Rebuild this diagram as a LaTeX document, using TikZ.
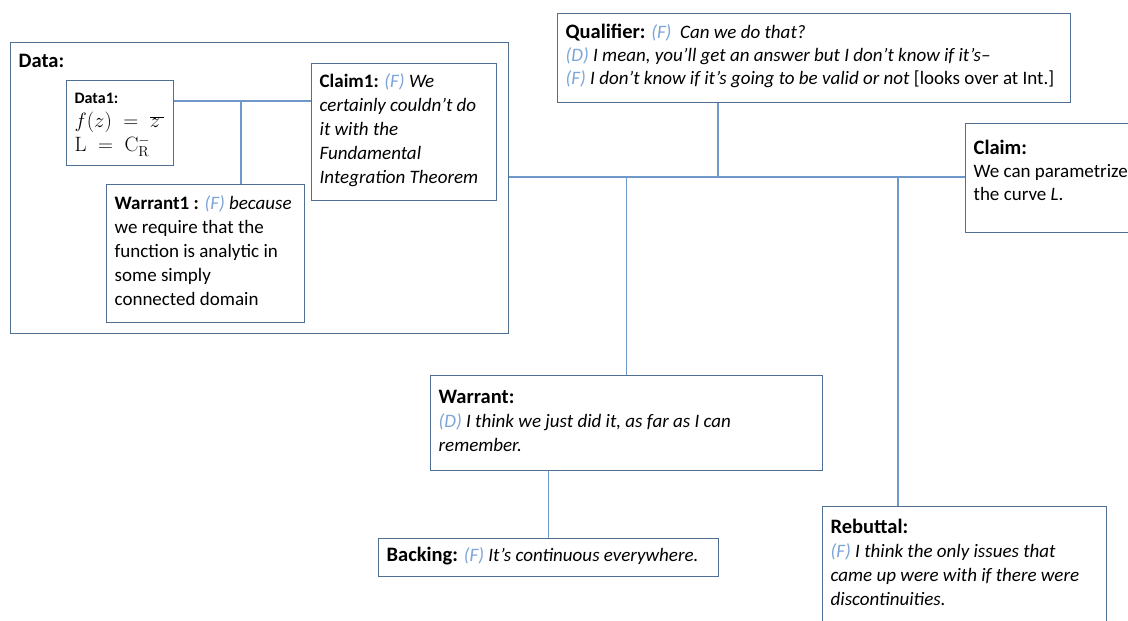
\documentclass[tikz,border=0pt]{standalone}
\usepackage[no-math]{fontspec}
\setmainfont{Carlito}
\definecolor{boxline}{HTML}{4F6F93}
\definecolor{linkline}{HTML}{6E98CB}
\definecolor{speaker}{HTML}{7DA5D8}
% speaker tag and headings
\newcommand{\who}[1]{{\color{speaker}\itshape(#1)}}
\newcommand{\head}[1]{{\fontsize{20.5}{24}\selectfont\bfseries #1}}
% box text: width, height, first baseline, text
\newcommand{\boxtext}[4]{%
  \begin{minipage}[t][#2pt][t]{\dimexpr #1pt-16pt\relax}\raggedright\rule{0pt}{#3pt}#4\end{minipage}}

\begin{document}
\begin{tikzpicture}[
  x=1pt, y=-1pt,
  font=\fontsize{19}{24}\selectfont,
  part/.style={draw=boxline, line width=1.3pt, fill=white, anchor=north west, inner xsep=8pt, inner ysep=0pt},
  link/.style={draw=linkline, line width=1.2pt},
]
\useasboundingbox (0,0) rectangle (1128,621);
\clip (0,0) rectangle (1128,621);

% Data group with its own small argument
\node[part] (data) at (10,42) {\boxtext{498}{291}{25}{\head{Data:}}};
\node[part] (dataone) at (66,80) {\boxtext{107}{85}{23}{{\fontsize{16}{24}\selectfont\bfseries Data1:}\\
  {\fontsize{21}{24}\selectfont $f(z)\;=\;\overline{z\,}$\\
  $\mathrm{L}\;=\;\mathrm{C}_{\mathrm{R}}^{-}$}}};
\node[part] (claimone) at (311,63) {\boxtext{185}{137}{24}{\textbf{Claim1:} \who{F} \textit{We}\\
  \textit{certainly couldn't do}\\ \textit{it with the}\\ \textit{Fundamental}\\ \textit{Integration Theorem}}};
\node[part] (warrantone) at (106,184) {\boxtext{198}{138}{25}{\textbf{Warrant1 :} \who{F} \textit{because}\\
  we require that the\\ function is analytic in\\ some simply\\ connected domain}};

% main argument
\node[part] (qualifier) at (557,13) {\boxtext{513}{89}{25}{\fontsize{19}{23}\selectfont
  \head{Qualifier:} \who{F}\ \ \textit{Can we do that?}\\
  \who{D} \textit{I mean, you'll get an answer but I don't know if it's--}\\
  \who{F} \textit{I don't know if it's going to be valid or not} [looks over at Int.]}};
\node[part] (claim) at (965,123) {\boxtext{175}{109}{31}{\fontsize{19}{23}\selectfont
  \head{Claim:}\\ We can parametrize\\ the curve \textit{L}.}};
\node[part] (warrant) at (430,375) {\boxtext{392}{95}{28}{\head{Warrant:}\\
  \who{D} \textit{I think we just did it, as far as I can}\\ \textit{remember.}}};
\node[part] (backing) at (378,538) {\boxtext{340}{38}{23}{\head{Backing:} \who{F} \textit{It's continuous everywhere.}}};
\node[part] (rebuttal) at (822,506) {\boxtext{284}{134}{27}{\head{Rebuttal:}\\
  \who{F} \textit{I think the only issues that}\\ \textit{came up were with if there were}\\ \textit{discontinuities.}}};

% connectors
\coordinate (dl) at (241,101);
\draw[link] (dl -| dataone.east) -- (dl -| claimone.west);
\draw[link] (dl) -- (dl |- warrantone.north);
\coordinate (ml) at (0,177);
\draw[link] (ml -| data.east) -- (ml -| claim.west);
\coordinate (ql) at (718,177);
\draw[link] (ql) -- (ql |- qualifier.south);
\draw[link] (warrant.north) -- (warrant.north |- ml);
\draw[link] (backing.north) -- (backing.north |- warrant.south);
\coordinate (rl) at (898,177);
\draw[link] (rl) -- (rl |- rebuttal.north);

\end{tikzpicture}
\end{document}
